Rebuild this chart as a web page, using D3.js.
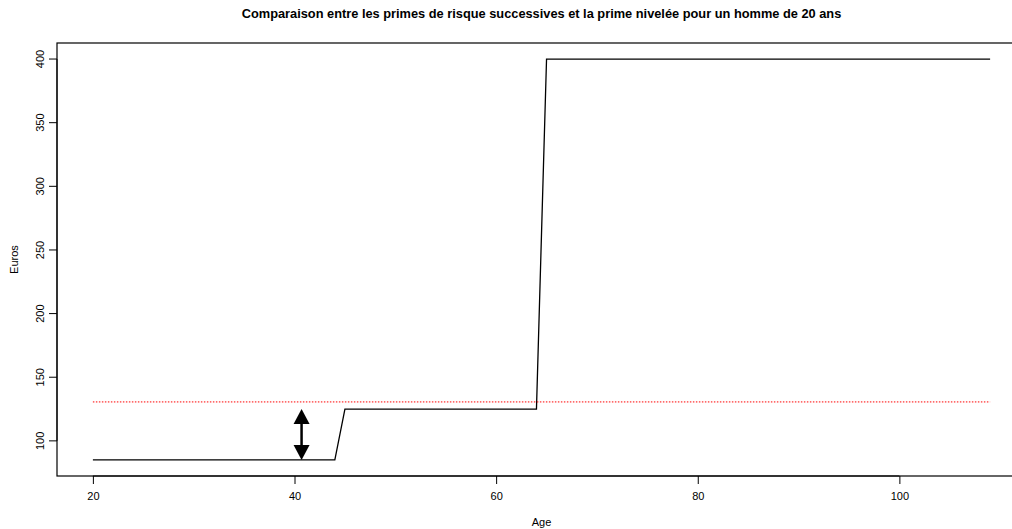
<!DOCTYPE html>
<html>
<head>
<meta charset="utf-8">
<script src="https://cdn.jsdelivr.net/npm/d3@7"></script>
<style>
  body { margin: 0; background: #fff; }
  svg { display: block; font-family: "Liberation Sans", Arial, sans-serif; }
</style>
</head>
<body>
<div id="chart"></div>
<script>
// Step line vertices: successive risk premiums by age
const ages = [20, 44, 45, 64, 65, 109];
const premiums = [85, 85, 125, 125, 400, 400];
// Level premium (red dotted line)
const levelAges = [20, 109];
const levelPremium = 130.6;
// Double arrow
const arrowAge = 40.7;
const arrowRange = [85, 125];
// Ticks
const xTicks = [20, 40, 60, 80, 100];
const yTicks = [100, 150, 200, 250, 300, 350, 400];

const width = 1012, height = 529;

const svg = d3.select("#chart").append("svg")
  .attr("width", width)
  .attr("height", height);

// R style 4% padding on data range
const xMin = d3.min(ages), xMax = d3.max(ages);
const yMin = d3.min(premiums), yMax = d3.max(premiums);
const xPad = (xMax - xMin) * 0.04, yPad = (yMax - yMin) * 0.04;

const x = d3.scaleLinear()
  .domain([xMin - xPad, xMax + xPad])
  .range([57, 1026]);

const y = d3.scaleLinear()
  .domain([yMin - yPad, yMax + yPad])
  .range([476, 43]);

// plot box (right side is cut off by the picture)
svg.append("rect")
  .attr("x", x.range()[0])
  .attr("y", y.range()[1])
  .attr("width", x.range()[1] - x.range()[0])
  .attr("height", y.range()[0] - y.range()[1])
  .attr("fill", "none")
  .attr("stroke", "#000")
  .attr("stroke-width", 1.2);

// X axis
const xAxis = svg.append("g")
  .attr("transform", `translate(0,${y.range()[0]})`)
  .call(d3.axisBottom(x).tickValues(xTicks).tickSize(8).tickPadding(8).tickSizeOuter(0));
xAxis.select(".domain")
  .attr("d", `M${x(xTicks[0])},0H${x(xTicks[xTicks.length - 1])}`);
xAxis.selectAll("text").attr("font-size", 11).attr("font-family", "Liberation Sans, Arial, sans-serif");

// Y axis
const yAxis = svg.append("g")
  .attr("transform", `translate(${x.range()[0]},0)`)
  .call(d3.axisLeft(y).tickValues(yTicks).tickSize(8).tickSizeOuter(0));
yAxis.select(".domain")
  .attr("d", `M0,${y(yTicks[0])}V${y(yTicks[yTicks.length - 1])}`);
yAxis.selectAll("text")
  .attr("font-size", 11)
  .attr("font-family", "Liberation Sans, Arial, sans-serif")
  .attr("text-anchor", "middle")
  .attr("x", 0)
  .attr("dy", 0)
  .attr("transform", d => `translate(-13,${y(d)}) rotate(-90)`)
  .attr("y", 0);
yAxis.selectAll(".tick").attr("transform", null);
yAxis.selectAll(".tick line").attr("transform", d => `translate(0,${y(d)})`);

// Title
svg.append("text")
  .attr("x", (x.range()[0] + x.range()[1]) / 2)
  .attr("y", 18)
  .attr("text-anchor", "middle")
  .attr("font-weight", "bold")
  .attr("font-size", 12.8)
  .text("Comparaison entre les primes de risque successives et la prime nivelée pour un homme de 20 ans");

// Axis labels
svg.append("text")
  .attr("x", (x.range()[0] + x.range()[1]) / 2)
  .attr("y", 526)
  .attr("text-anchor", "middle")
  .attr("font-size", 11)
  .text("Age");

svg.append("text")
  .attr("transform", `translate(18,${(y.range()[0] + y.range()[1]) / 2}) rotate(-90)`)
  .attr("text-anchor", "middle")
  .attr("font-size", 11)
  .text("Euros");

// Step line
const line = d3.line()
  .x(d => x(d[0]))
  .y(d => y(d[1]));

svg.append("path")
  .datum(d3.zip(ages, premiums))
  .attr("fill", "none")
  .attr("stroke", "#000")
  .attr("stroke-width", 1.3)
  .attr("d", line);

// Level premium
svg.append("path")
  .datum(levelAges.map(a => [a, levelPremium]))
  .attr("fill", "none")
  .attr("stroke", "red")
  .attr("stroke-width", 1)
  .attr("stroke-dasharray", "1.5,1.5")
  .attr("d", line);

// Double arrow
const ax = x(arrowAge);
const yLo = y(arrowRange[0]), yHi = y(arrowRange[1]);
const headW = 8, headH = 15;
svg.append("line")
  .attr("x1", ax).attr("x2", ax)
  .attr("y1", yHi + headH - 2).attr("y2", yLo - headH + 2)
  .attr("stroke", "#000")
  .attr("stroke-width", 2.5);
svg.append("path")
  .attr("d", `M${ax},${yHi}L${ax - headW},${yHi + headH}L${ax + headW},${yHi + headH}Z`)
  .attr("fill", "#000");
svg.append("path")
  .attr("d", `M${ax},${yLo}L${ax - headW},${yLo - headH}L${ax + headW},${yLo - headH}Z`)
  .attr("fill", "#000");
</script>
</body>
</html>
